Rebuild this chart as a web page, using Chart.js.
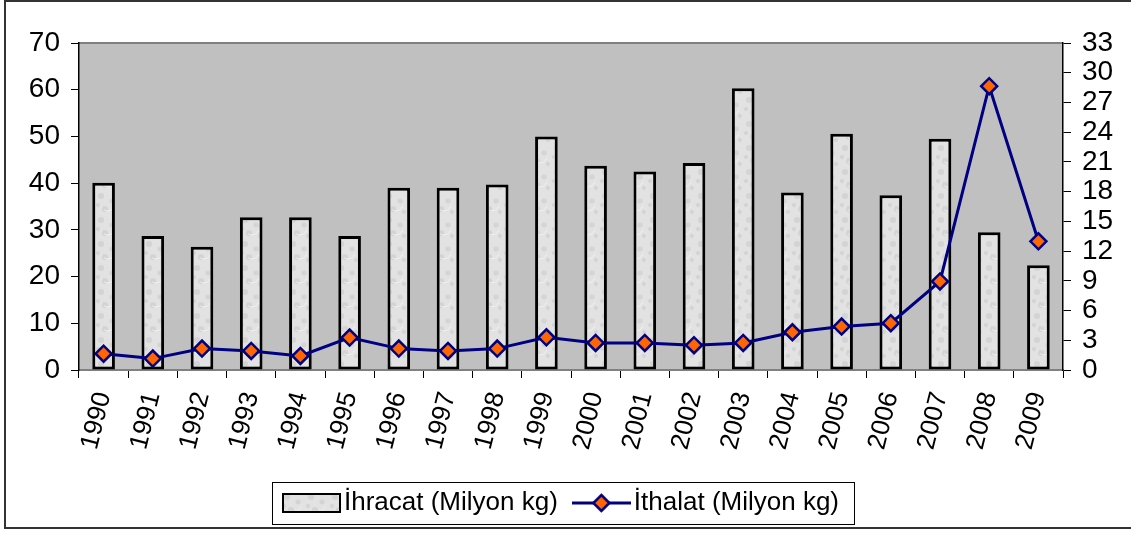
<!DOCTYPE html>
<html>
<head>
<meta charset="utf-8">
<script src="https://cdn.jsdelivr.net/npm/chart.js@4.4.1/dist/chart.umd.min.js"></script>
<style>
  html, body { margin: 0; padding: 0; background: #ffffff; overflow: hidden; }
  #wrap { position: relative; width: 1131px; height: 533px; }
  #frame { position: absolute; left: 4px; top: 0px; width: 1140px; height: 529px; border: 2px solid #333; border-right: none; box-sizing: border-box; }
  canvas { position: absolute; left: 0; top: 0; }
</style>
</head>
<body>
<div id="wrap">
  <div id="frame"></div>
  <canvas id="c" width="1131" height="533"></canvas>
</div>
<script>
const years = ["1990","1991","1992","1993","1994","1995","1996","1997","1998","1999",
               "2000","2001","2002","2003","2004","2005","2006","2007","2008","2009"];
const ihracat = [40.1, 28.7, 26.4, 32.7, 32.7, 28.7, 39.0, 39.0, 39.7, 50.0,
                 43.7, 42.5, 44.3, 60.3, 38.0, 50.6, 37.4, 49.5, 29.5, 22.4];
const ithalat = [1.65, 1.15, 2.16, 1.92, 1.42, 3.27, 2.16, 1.92, 2.16, 3.30,
                 2.73, 2.73, 2.50, 2.73, 3.81, 4.38, 4.72, 8.94, 28.64, 12.99];
const leftTicks = { min: 0, max: 70, step: 10 };
const rightTicks = { min: 0, max: 33, step: 3 };
const seriesNames = ["İhracat (Milyon kg)", "İthalat (Milyon kg)"];

const FONT = "'Liberation Sans', Arial, sans-serif";

// bar texture pattern
function makeTexture() {
  const c = document.createElement('canvas');
  c.width = 24; c.height = 24;
  const x = c.getContext('2d');
  x.fillStyle = '#e2e2e2';
  x.fillRect(0, 0, 24, 24);
  x.fillStyle = 'rgba(180,180,180,0.3)';
  const spots = [[5,4,3],[16,9,2.5],[9,17,3],[20,20,2],[2,13,2]];
  spots.forEach(s => { x.beginPath(); x.arc(s[0], s[1], s[2], 0, Math.PI*2); x.fill(); });
  x.strokeStyle = 'rgba(245,245,245,0.8)';
  x.lineWidth = 1;
  x.beginPath(); x.arc(12, 12, 7, 0.3, 2.2); x.stroke();
  return x.createPattern(c, 'repeat');
}
const texture = makeTexture();

function barSwatch() {
  const c = document.createElement('canvas');
  c.width = 59; c.height = 20;
  const x = c.getContext('2d');
  x.fillStyle = texture; x.fillRect(1, 1, 57, 18);
  x.strokeStyle = '#000'; x.lineWidth = 2; x.strokeRect(1, 1, 57, 18);
  return c;
}
function lineSwatch() {
  const c = document.createElement('canvas');
  c.width = 59; c.height = 20;
  const x = c.getContext('2d');
  x.strokeStyle = '#000080'; x.lineWidth = 3;
  x.beginPath(); x.moveTo(0, 10); x.lineTo(59, 10); x.stroke();
  x.beginPath(); x.moveTo(29.5, 2); x.lineTo(37.5, 10); x.lineTo(29.5, 18); x.lineTo(21.5, 10); x.closePath();
  x.fillStyle = '#FF6600'; x.fill();
  x.lineWidth = 2.5; x.stroke();
  return c;
}
const swatches = [barSwatch(), lineSwatch()];

const plotBg = {
  id: 'plotBg',
  beforeDraw(chart) {
    const {ctx, chartArea: a} = chart;
    ctx.save();
    ctx.fillStyle = '#c0c0c0';
    ctx.fillRect(a.left, a.top, a.right - a.left, a.bottom - a.top);
    ctx.strokeStyle = '#808080'; ctx.lineWidth = 2;
    ctx.beginPath(); ctx.moveTo(a.left, a.top); ctx.lineTo(a.right, a.top); ctx.stroke();
    ctx.restore();
  },
  afterDraw(chart) {
    const lg = chart.legend;
    if (!lg || !lg.legendHitBoxes || !lg.legendHitBoxes.length) return;
    const hb = lg.legendHitBoxes;
    const l = hb[0].left - 20, r = hb[hb.length-1].left + hb[hb.length-1].width + 15;
    const t = hb[0].top - 8, b = hb[0].top + 34;
    const ctx = chart.ctx;
    ctx.save();
    ctx.strokeStyle = '#000'; ctx.lineWidth = 1;
    ctx.strokeRect(Math.round(l) + 0.5, Math.round(t) + 0.5, Math.round(r - l), Math.round(b - t));
    ctx.restore();
  }
};

new Chart(document.getElementById('c'), {
  data: {
    labels: years,
    datasets: [
      {
        type: 'line',
        label: seriesNames[1],
        data: ithalat,
        yAxisID: 'yR',
        borderColor: '#000080',
        borderWidth: 3,
        backgroundColor: '#FF6600',
        pointStyle: 'rectRot',
        pointRadius: 8,
        pointBorderWidth: 2.5,
        pointBorderColor: '#000080',
        pointBackgroundColor: '#FF6600',
        tension: 0,
        order: 0
      },
      {
        type: 'bar',
        label: seriesNames[0],
        data: ihracat,
        yAxisID: 'yL',
        backgroundColor: texture,
        borderColor: '#000',
        borderWidth: 3,
        borderSkipped: false,
        barPercentage: 0.46,
        categoryPercentage: 1.0,
        order: 1
      }
    ]
  },
  options: {
    responsive: false,
    animation: false,
    devicePixelRatio: 1,
    layout: { padding: { top: 43, left: 0, right: 0, bottom: 7 } },
    plugins: {
      tooltip: { enabled: false },
      legend: {
        position: 'bottom',
        labels: {
          font: { family: FONT, size: 26 },
          color: '#000',
          padding: 24,
          usePointStyle: true,
          pointStyleWidth: 39,
          generateLabels(chart) {
            return [0, 1].map(i => ({
              text: seriesNames[i],
              pointStyle: swatches[i],
              datasetIndex: i === 0 ? 1 : 0,
              hidden: false,
              lineWidth: 0,
              fontColor: '#000'
            }));
          }
        }
      }
    },
    scales: {
      x: {
        type: 'category',
        offset: true,
        grid: { display: true, drawOnChartArea: false, drawTicks: true, tickLength: 8, color: '#000', offset: true },
        border: { display: true, color: '#808080', width: 2 },
        ticks: { font: { family: FONT, size: 26 }, color: '#000', minRotation: 76, maxRotation: 76, padding: 11, autoSkip: false },
        afterFit(s) { s.height = 96; }
      },
      yL: {
        type: 'linear',
        position: 'left',
        min: leftTicks.min, max: leftTicks.max,
        grid: { display: true, drawOnChartArea: false, drawTicks: true, tickLength: 8, color: '#000' },
        border: { display: true, color: '#000', width: 1.5 },
        ticks: { stepSize: leftTicks.step, font: { family: FONT, size: 28 }, color: '#000', padding: 11, autoSkip: false },
        afterFit(s) { s.width = 79; }
      },
      yR: {
        type: 'linear',
        position: 'right',
        min: rightTicks.min, max: rightTicks.max,
        grid: { display: true, drawOnChartArea: false, drawTicks: true, tickLength: 8, color: '#000' },
        border: { display: true, color: '#000', width: 1.5 },
        ticks: { stepSize: rightTicks.step, font: { family: FONT, size: 28 }, color: '#000', padding: 11, autoSkip: false },
        afterFit(s) { s.width = 68; }
      }
    }
  },
  plugins: [plotBg]
});
</script>
</body>
</html>
